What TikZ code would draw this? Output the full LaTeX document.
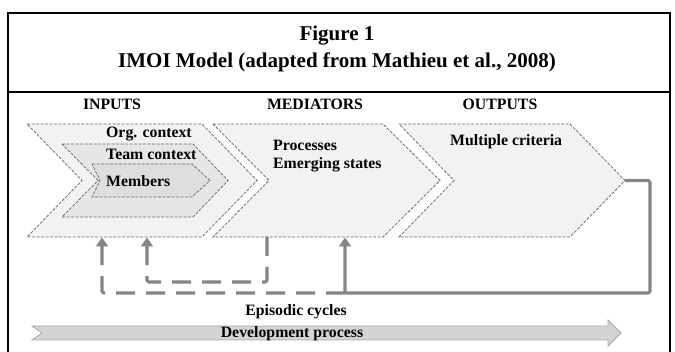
\documentclass[tikz,border=0pt]{standalone}
\usepackage{fontspec}
\setmainfont{Liberation Serif}
\usetikzlibrary{arrows.meta}
\definecolor{chevfillA}{HTML}{F2F2F2}
\definecolor{chevfillB}{HTML}{E6E6E6}
\definecolor{chevfillC}{HTML}{DEDEDE}
\definecolor{chevline}{HTML}{6A6A6A}
\definecolor{fbcol}{HTML}{858585}
\definecolor{devfill}{HTML}{D4D4D4}
\definecolor{devline}{HTML}{A8A8A8}
\begin{document}
\begin{tikzpicture}[x=1pt,y=-1pt,
  lbl/.style={font=\fontsize{15.8}{18}\selectfont\bfseries, inner sep=0pt},
  ttl/.style={font=\fontsize{21}{24}\selectfont\bfseries, inner sep=0pt},
  chev/.style={draw=chevline, dash pattern=on 3pt off 1.5pt, line width=0.75pt},
  fb/.style={draw=fbcol, line width=3.1pt, line join=round, rounded corners=1.5pt},
  fbd/.style={fb, dash pattern=on 19pt off 11pt},
  tipend/.style={-{Triangle[width=12pt,length=9pt]}},
  frame/.style={line width=2.2pt, draw=black}
  ]
\useasboundingbox (0,0) rectangle (675,352);
% frame
\draw[frame] (8,352) -- (8,13) -- (670,13) -- (670,352);
\draw[frame] (8,92) -- (670,92);
\node[ttl] (fig) at (337,36) {Figure 1};
\node[ttl] (title) at (337,62) {IMOI Model (adapted from Mathieu et al., 2008)};
% headings
\node[lbl] (hin) at (112,104) {INPUTS};
\node[lbl] (hmed) at (315,104) {MEDIATORS};
\node[lbl] (hout) at (500,104) {OUTPUTS};
% chevrons
\draw[chev, fill=chevfillA] (27,124) -- (202,124) -- (257,180.5) -- (202,237) -- (27,237) -- (82,180.5) -- cycle;
\draw[chev, fill=chevfillB] (62,144) -- (193,144) -- (228,180.5) -- (193,217) -- (62,217) -- (98,180.5) -- cycle;
\draw[chev, fill=chevfillC] (92,164) -- (192,164) -- (210,180.5) -- (192,197) -- (92,197) -- (100,180.5) -- cycle;
\draw[chev, fill=chevfillA] (213,124) -- (383,124) -- (440,180.5) -- (383,237) -- (213,237) -- (269,180.5) -- cycle;
\draw[chev, fill=chevfillA] (399,124) -- (570,124) -- (625,180.5) -- (570,237) -- (399,237) -- (454,180.5) -- cycle;
% labels
\node[lbl, anchor=west] (org) at (106,134) {Org. context};
\node[lbl, anchor=west] (team) at (106,154) {Team context};
\node[lbl, anchor=west] (mem) at (106,181) {Members};
\node[lbl, anchor=west] (proc) at (273,145) {Processes};
\node[lbl, anchor=west] (emer) at (273,165) {Emerging states};
\node[lbl, anchor=west] (mult) at (450,142) {Multiple criteria};
% connector points
\coordinate (inB1) at (102,237.5);
\coordinate (inB2) at (147,237.5);
\coordinate (medB1) at (267,237);
\coordinate (medB2) at (345,237.5);
\coordinate (outTip) at (625,180.5);
\coordinate (loopR) at (650,293);
\coordinate (loopM) at (345,293);
\coordinate (innerLoop) at (267,282);
% feedback loops
\draw[fbd, tipend] (medB1) -- (innerLoop) -| (inB2);
\draw[fb, tipend] (outTip) -| (loopR) -| (medB2);
\draw[fbd, tipend] (loopM) -| (inB1);
\node[lbl] (epi) at (296,312) {Episodic cycles};
% development arrow
\draw[draw=devline, fill=devfill, line width=0.8pt] (32,326) -- (608,326) -- (608,320) -- (621,333) -- (608,346) -- (608,340) -- (32,340) -- (42,333) -- cycle;
\node[lbl] (dev) at (292,334) {Development process};
\end{tikzpicture}
\end{document}
